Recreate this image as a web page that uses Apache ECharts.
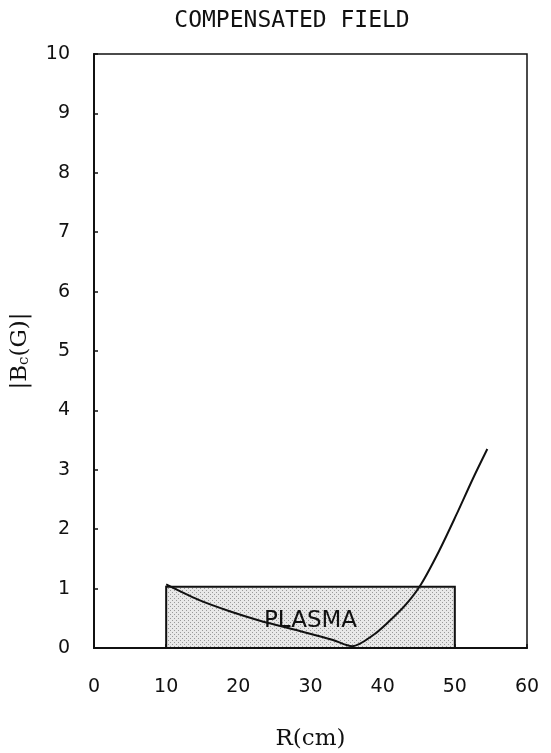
<!DOCTYPE html>
<html>
<head>
<meta charset="utf-8">
<script src="https://cdn.jsdelivr.net/npm/echarts@6/dist/echarts.min.js"></script>
<style>
  html, body { margin: 0; padding: 0; background: #fff; }
  #chart { width: 551px; height: 753px; }
</style>
</head>
<body>
<div id="chart"></div>
<script>
// field curve
var radius = [10, 14.5, 19, 23, 28.4, 33, 35.8, 38.6, 40.9, 43.2, 45.3, 47.8, 50.2, 52.5, 54.5];
var field = [1.07, 0.81, 0.61, 0.46, 0.29, 0.14, 0.03, 0.21, 0.45, 0.73, 1.07, 1.63, 2.24, 2.85, 3.35];
// plasma region
var plasmaR = [10, 50];
var plasmaTop = 1.03;
var xTicks = [0, 10, 20, 30, 40, 50, 60];
var yTicks = [0, 1, 2, 3, 4, 5, 6, 7, 8, 9, 10];

var curve = radius.map(function (r, i) { return [r, field[i]]; });

// dotted grey fill like the shaded plasma box
var pat = document.createElement("canvas");
pat.width = 4;
pat.height = 4;
var ctx = pat.getContext("2d");
ctx.fillStyle = "#e8e8e8";
ctx.fillRect(0, 0, 4, 4);
ctx.fillStyle = "#999";
ctx.fillRect(0, 0, 1, 1);
ctx.fillRect(2, 2, 1, 1);

var chart = echarts.init(document.getElementById("chart"));
chart.setOption({
  animation: false,
  backgroundColor: "#fff",
  title: {
    text: "COMPENSATED FIELD",
    left: 287,
    textAlign: "center",
    top: 5,
    textStyle: { fontFamily: "DejaVu Sans Mono", fontSize: 23, fontWeight: "normal", color: "#111" }
  },
  grid: {
    left: 94, right: 24, top: 54, bottom: 105,
    outerBoundsMode: "none",
    show: true, borderColor: "#111", borderWidth: 1.5
  },
  xAxis: {
    type: "value",
    min: 0, max: 60, interval: 10,
    name: "R(cm)",
    nameLocation: "middle",
    nameGap: 80,
    nameTextStyle: { fontFamily: "DejaVu Serif", fontSize: 23, color: "#111" },
    axisLine: { show: true, lineStyle: { color: "#111", width: 2 } },
    axisTick: { show: true, inside: true, length: 4, lineStyle: { color: "#111", width: 1.5 } },
    axisLabel: {
      margin: 30, fontFamily: "DejaVu Sans", fontSize: 19, color: "#111",
      formatter: function (v) { return xTicks.indexOf(v) >= 0 ? String(v) : ""; }
    },
    splitLine: { show: false }
  },
  yAxis: {
    type: "value",
    min: 0, max: 10, interval: 1,
    name: "{a||B}{s|c}{a|(G)|}",
    nameLocation: "middle",
    nameGap: 62,
    nameRotate: 90,
    nameTextStyle: {
      rich: {
        a: { fontFamily: "DejaVu Serif", fontSize: 23, color: "#111" },
        s: { fontFamily: "DejaVu Serif", fontSize: 15, color: "#111", verticalAlign: "bottom", padding: [8, 0, 0, 0] }
      }
    },
    axisLine: { show: true, lineStyle: { color: "#111", width: 2 } },
    axisTick: { show: true, inside: true, length: 4, lineStyle: { color: "#111", width: 1.5 } },
    axisLabel: {
      margin: 24, fontFamily: "DejaVu Sans", fontSize: 19, color: "#111",
      formatter: function (v) { return yTicks.indexOf(v) >= 0 ? String(v) : ""; }
    },
    splitLine: { show: false }
  },
  series: [
    {
      type: "line",
      data: [],
      silent: true,
      markArea: {
        silent: true,
        itemStyle: { color: { image: pat, repeat: "repeat" }, borderColor: "#111", borderWidth: 2 },
        label: {
          show: true, position: "inside", offset: [0, 4],
          fontFamily: "DejaVu Sans", fontSize: 23, color: "#111",
          formatter: "PLASMA"
        },
        data: [[{ coord: [plasmaR[0], 0] }, { coord: [plasmaR[1], plasmaTop] }]]
      }
    },
    {
      type: "line",
      data: curve,
      smooth: 0.3,
      showSymbol: false,
      z: 5,
      lineStyle: { color: "#111", width: 2 }
    }
  ]
});
</script>
</body>
</html>
